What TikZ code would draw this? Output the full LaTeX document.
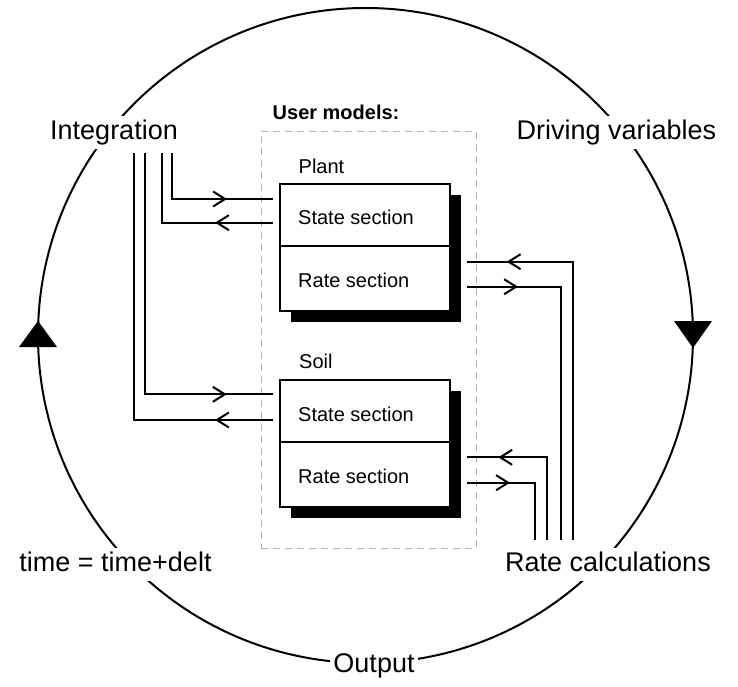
\documentclass[tikz,border=0pt]{standalone}
\usepackage{fontspec}
\setmainfont{Liberation Sans}
\usetikzlibrary{arrows.meta,decorations.markings,shadows,backgrounds}
\tikzset{
  ln/.style={line width=2pt},
  barb/.tip={Straight Barb[length=12pt,width=15pt]},
  biglabel/.style={font=\fontsize{27}{30}\selectfont, fill=white, draw=none, inner sep=3pt, text height=20pt, text depth=7pt, anchor=base},
  small/.style={font=\fontsize{20}{24}\selectfont, inner sep=0pt, anchor=base west},
  ubox/.style={draw, fill=white, line width=2pt, minimum width=170pt, inner sep=0pt,
    drop shadow={shadow xshift=11pt, shadow yshift=-11pt, opacity=1, fill=black}},
  fwdat/.style={ln, postaction={decorate}, decoration={markings, mark=at position #1 with {\arrow{barb}}}},
  revat/.style={ln, postaction={decorate}, decoration={markings, mark=at position #1 with {\arrowreversed{barb}}}},
  tri/.style={fill=black}
}
\begin{document}
\begin{tikzpicture}[x=1pt,y=-1pt]
\useasboundingbox (0,0) rectangle (738,687);
% cycle labels
\node[biglabel] (integ) at (114,139.5) {Integration};
\node[biglabel] (drive) at (616.5,139.5) {Driving variables};
\node[biglabel] (time) at (115.5,571.4) {time = time+delt};
\node[biglabel] (ratec) at (608,571.4) {Rate calculations};
\node[biglabel] (out) at (374,672.7) {Output};
% outer cycle, behind the labels
\begin{scope}[on background layer]
\node[circle, draw, ln, minimum size=655pt, inner sep=0pt] (ring) at (365.5,335.5) {};
\fill[tri] (38,321) -- (19,347) -- (57,347) -- cycle;
\fill[tri] (674,321) -- (712,321) -- (693,348) -- cycle;
\end{scope}
% user models frame
\node[draw=gray!60, line width=0.9pt, dash pattern=on 7pt off 5pt, minimum width=215pt, minimum height=417pt, inner sep=0pt] (user) at (368.5,339.5) {};
\node[font=\fontsize{20}{24}\selectfont\bfseries, inner sep=0pt, anchor=base west] (umlab) at (272.5,120) {User models:};
% plant
\node[small] (plantlab) at (298.5,174) {Plant};
\node[ubox, minimum height=127pt] (plant) at (365,247.5) {};
\coordinate (pdiv) at (280,245.7);
\draw[ln] (pdiv) -- (pdiv -| plant.east);
\node[small] (pstate) at (298,224.9) {State section};
\node[small] (prate) at (298,287.2) {Rate section};
% soil
\node[small] (soillab) at (299,368) {Soil};
\node[ubox, minimum height=126.7pt] (soil) at (365,443.35) {};
\coordinate (sdiv) at (280,442);
\draw[ln] (sdiv) -- (sdiv -| soil.east);
\node[small] (sstate) at (298,421.2) {State section};
\node[small] (srate) at (298,483.2) {Rate section};
% left connectors
\coordinate (i1) at (172,153);
\coordinate (i2) at (161.7,153);
\coordinate (i3) at (145,153);
\coordinate (i4) at (134,153);
\coordinate (ps1) at (273,199);
\coordinate (ps2) at (273,222.7);
\coordinate (ss1) at (273,394.3);
\coordinate (ss2) at (273,420);
\draw[fwdat=-46pt] (i1) |- (ps1);
\draw[revat=-58pt] (i2) |- (ps2);
\draw[fwdat=-46.3pt] (i3) |- (ss1);
\draw[revat=-58pt] (i4) |- (ss2);
% right connectors
\coordinate (pr1) at (466.7,261.7);
\coordinate (pr2) at (466.7,286.7);
\coordinate (sr1) at (466.7,457.3);
\coordinate (sr2) at (466.7,482.7);
\coordinate (r1) at (573.3,540);
\coordinate (r2) at (561,540);
\coordinate (r3) at (546.7,540);
\coordinate (r4) at (535,540);
\draw[revat=40pt] (pr1) -| (r1);
\draw[fwdat=51.3pt] (pr2) -| (r2);
\draw[revat=31.6pt] (sr1) -| (r3);
\draw[fwdat=43.3pt] (sr2) -| (r4);
\end{tikzpicture}
\end{document}
